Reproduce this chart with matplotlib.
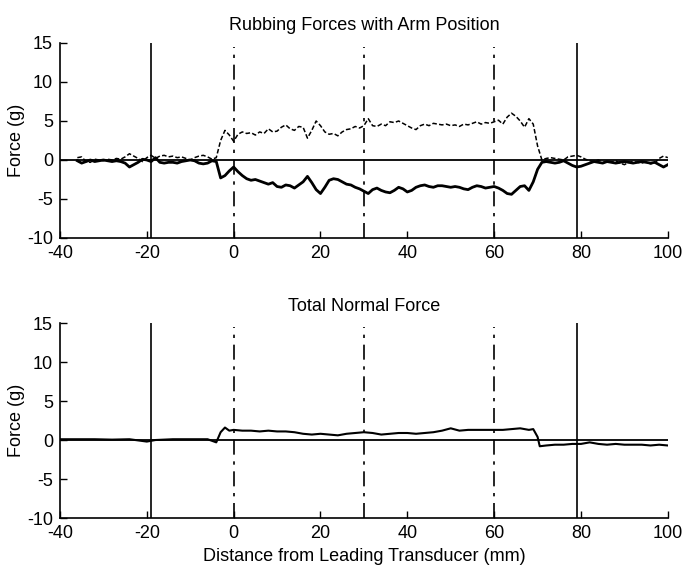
import matplotlib
matplotlib.use("Agg")
import matplotlib.pyplot as plt
import numpy as np

plt.rcParams['font.family'] = ['Liberation Sans', 'DejaVu Sans']
plt.rcParams['axes.unicode_minus'] = False

# top panel: distance (mm) for both rubbing-force traces
x_rub = np.arange(-36, 101)

# dashed trace (positive side)
rub_upper = [
    0.3, 0.4, -0.2, -0.3, 0.1, 0.0, -0.1, 0.1, 0.0, 0.2,      # -36..-27
    0.1, 0.4, 0.8, 0.5, 0.2, -0.2, 0.3, 0.6, 0.2, 0.5,        # -26..-17
    0.6, 0.4, 0.5, 0.3, 0.4, 0.2, 0.0, 0.3, 0.5, 0.6,         # -16..-7
    0.4, 0.1, 0.3, 2.5, 3.8, 3.2, 2.4, 3.3, 3.6, 3.4,         # -6..3
    3.5, 3.2, 3.6, 3.4, 4.0, 3.6, 3.7, 4.2, 4.5, 4.0,         # 4..13
    3.8, 4.3, 4.2, 2.8, 3.8, 5.0, 4.4, 3.6, 3.3, 3.4,         # 14..23
    3.1, 3.6, 3.9, 4.0, 4.3, 4.1, 4.4, 5.3, 4.4, 4.3,         # 24..33
    4.6, 4.4, 4.9, 4.8, 5.0, 4.7, 4.4, 4.1, 3.9, 4.4,         # 34..43
    4.6, 4.4, 4.7, 4.6, 4.5, 4.6, 4.4, 4.5, 4.3, 4.6,         # 44..53
    4.5, 4.7, 4.9, 4.6, 4.8, 4.7, 4.9, 5.1, 4.6, 5.5,         # 54..63
    6.0, 5.6, 5.0, 4.2, 5.3, 4.6, 1.8, 0.0, 0.2, 0.3,         # 64..73
    0.2, 0.1, 0.0, 0.4, 0.5, 0.6, 0.4, 0.1, -0.1, -0.2,       # 74..83
    0.0, -0.3, -0.2, -0.3, -0.1, -0.4, -0.6, -0.3, -0.2, -0.3,  # 84..93
    -0.4, -0.2, -0.5, -0.4, 0.2, 0.5, 0.3,                    # 94..100
]

# solid trace (negative side)
rub_lower = [
    -0.1, -0.4, -0.2, 0.0, -0.2, -0.1, 0.0, -0.1, -0.2, -0.1,   # -36..-27
    -0.2, -0.4, -0.9, -0.6, -0.3, 0.1, 0.0, -0.2, 0.3, -0.3,    # -26..-17
    -0.4, -0.3, -0.3, -0.4, -0.2, -0.1, 0.0, -0.1, -0.4, -0.5,  # -16..-7
    -0.4, -0.1, -0.2, -2.3, -2.0, -1.4, -0.9, -1.5, -2.0, -2.4,  # -6..3
    -2.6, -2.5, -2.7, -2.9, -3.1, -2.9, -3.4, -3.5, -3.2, -3.3,  # 4..13
    -3.6, -3.2, -2.8, -2.1, -2.9, -3.8, -4.3, -3.5, -2.6, -2.4,  # 14..23
    -2.5, -2.8, -3.1, -3.2, -3.5, -3.7, -4.0, -4.3, -3.8, -3.6,  # 24..33
    -3.9, -4.1, -4.2, -3.9, -3.5, -3.7, -4.1, -3.9, -3.5, -3.3,  # 34..43
    -3.2, -3.4, -3.5, -3.3, -3.3, -3.4, -3.5, -3.4, -3.5, -3.7,  # 44..53
    -3.8, -3.5, -3.3, -3.4, -3.6, -3.5, -3.4, -3.6, -3.9, -4.3,  # 54..63
    -4.4, -3.9, -3.4, -3.3, -3.9, -2.8, -1.2, -0.3, -0.2, -0.3,  # 64..73
    -0.4, -0.3, -0.1, -0.4, -0.7, -0.9, -0.8, -0.6, -0.4, -0.2,  # 74..83
    -0.3, -0.4, -0.2, -0.3, -0.4, -0.3, -0.2, -0.3, -0.4, -0.3,  # 84..93
    -0.2, -0.3, -0.4, -0.3, -0.6, -0.9, -0.6,                    # 94..100
]

# bottom panel: total normal force
x_norm = [-40, -36, -32, -28, -24, -20, -18, -14, -10, -6, -4, -3, -2, -1,
          0, 2, 4, 6, 8, 10, 12, 14, 16, 18, 20, 22, 24, 26, 28, 30,
          32, 34, 36, 38, 40, 42, 44, 46, 48, 50, 52, 54, 56, 58, 60,
          62, 64, 66, 68, 69, 70, 70.5, 72, 74, 76, 78, 80, 82, 84, 86,
          88, 90, 92, 94, 96, 98, 100]
normal_force = [0.1, 0.1, 0.1, 0.05, 0.1, -0.2, 0.0, 0.1, 0.1, 0.1, -0.3, 1.0, 1.6, 1.2,
                1.3, 1.2, 1.2, 1.1, 1.2, 1.1, 1.1, 1.0, 0.8, 0.7, 0.8, 0.7, 0.6, 0.8, 0.9, 1.0,
                0.9, 0.7, 0.8, 0.9, 0.9, 0.8, 0.9, 1.0, 1.2, 1.5, 1.2, 1.3, 1.3, 1.3, 1.3,
                1.3, 1.4, 1.5, 1.3, 1.4, 0.4, -0.8, -0.7, -0.6, -0.6, -0.5, -0.5, -0.3, -0.5, -0.6,
                -0.5, -0.6, -0.6, -0.6, -0.7, -0.6, -0.7]

# marker positions along the scan
solid_marks = [-19, 79]
dashdot_marks = [0, 30, 60]

titles = ["Rubbing Forces with Arm Position", "Total Normal Force"]
xticks = [-40, -20, 0, 20, 40, 60, 80, 100]
yticks = [-10, -5, 0, 5, 10, 15]

fig = plt.figure(figsize=(6.83, 5.68), dpi=100)
ax1 = fig.add_axes([0.0878, 0.581, 0.890, 0.3433])
ax2 = fig.add_axes([0.0878, 0.088, 0.890, 0.3433])

for ax, title in zip([ax1, ax2], titles):
    for xm in solid_marks:
        ax.plot([xm, xm], [-10, 15], color='black', lw=1.2)
    for xm in dashdot_marks:
        ax.plot([xm, xm], [-10, 14.5], color='black', lw=1.2,
                linestyle=(0, (9, 4, 2, 4)))
    ax.plot([-40, 100], [0, 0], color='black', lw=1.3)
    ax.set_xlim(-40, 100)
    ax.set_ylim(-10, 15)
    ax.set_xticks(xticks)
    ax.set_yticks(yticks)
    ax.tick_params(direction='in', length=5, width=1, labelsize=13)
    ax.tick_params(axis='x', pad=5)
    ax.tick_params(axis='y', pad=5)
    ax.spines['top'].set_visible(False)
    ax.spines['right'].set_visible(False)
    ax.spines['left'].set_linewidth(1.2)
    ax.spines['bottom'].set_linewidth(1.2)
    ax.set_ylabel('Force (g)', fontsize=13)
    ax.yaxis.set_label_coords(-0.058, 0.5)
    ax.set_title(title, fontsize=13, pad=9)

ax1.plot(x_rub, rub_upper, color='black', lw=1.1, linestyle=(0, (3, 1.5)))
ax1.plot(x_rub, rub_lower, color='black', lw=2.0)
ax2.plot(x_norm, normal_force, color='black', lw=1.5)
ax2.set_xlabel('Distance from Leading Transducer (mm)', fontsize=13, labelpad=4)

fig.savefig('out.png', dpi=100)
